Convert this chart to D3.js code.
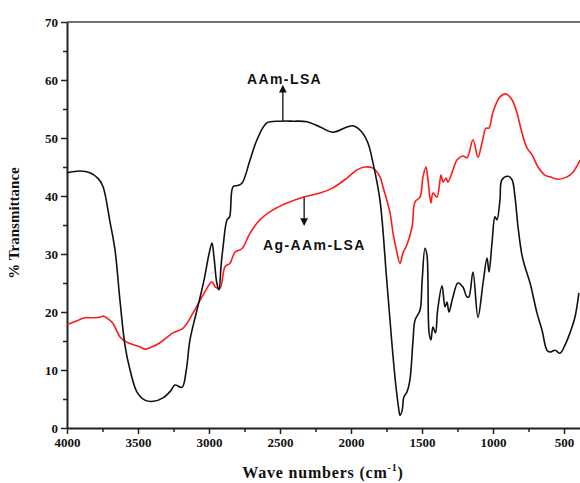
<!DOCTYPE html>
<html>
 <head>
 <meta charset="UTF-8">
 <style type="text/css">
  body { margin: 0; background: #fff; }
  .tick text { font-family: "Liberation Serif", "Times New Roman", serif; font-weight: bold; font-size: 13px; fill: #111; }
 </style>
 <script src="https://d3js.org/d3.v7.min.js"></script>
 </head>
 <body>
 <script type="text/javascript">

    // AAm-LSA spectrum, [wavenumber, % transmittance]
    var aamLsa = [
        [4000,44.0],[3908,44.3],[3838,44.0],[3780,43.0],[3746,41.6],[3697,35.5],[3662,30.7],[3627,22.0],
        [3592,14.3],[3556,10.0],[3507,6.2],[3451,4.8],[3394,4.6],[3324,5.2],[3270,6.4],[3240,7.4],
        [3190,7.0],[3160,10.0],[3134,15.2],[3085,20.3],[3035,25.5],[3000,30.0],[2979,31.9],[2965,29.5],
        [2945,25.0],[2930,23.8],[2915,28.0],[2901,31.2],[2873,35.9],[2855,36.4],[2831,41.6],[2800,41.8],
        [2768,42.2],[2711,46.2],[2662,49.7],[2592,52.6],[2500,52.9],[2408,52.9],[2310,52.8],[2218,51.9],
        [2127,51.0],[2028,51.9],[1986,52.1],[1923,51.0],[1880,49.1],[1845,45.7],[1796,39.3],[1750,26.0],
        [1710,14.0],[1685,7.5],[1665,3.5],[1655,2.2],[1640,3.0],[1628,5.3],[1606,6.2],[1585,8.3],
        [1563,15.2],[1549,18.6],[1514,20.3],[1500,25.0],[1479,31.0],[1465,29.8],[1450,16.4],[1437,15.2],
        [1423,17.4],[1405,16.4],[1390,20.3],[1359,24.5],[1338,20.9],[1324,21.7],[1310,20.0],[1282,22.6],
        [1247,25.0],[1212,24.3],[1184,22.6],[1170,22.6],[1141,26.9],[1106,19.1],[1070,25.0],[1042,29.3],
        [1028,26.9],[1007,31.9],[986,36.4],[972,35.9],[951,39.3],[937,42.8],[894,43.4],[866,42.8],
        [845,39.8],[824,34.7],[796,29.8],[775,27.8],[739,25.0],[690,19.8],[655,16.9],[620,13.4],
        [599,13.1],[563,13.4],[528,12.9],[493,14.3],[458,16.4],[423,19.1],[395,23.3]
    ];

    // Ag-AAm-LSA spectrum, [wavenumber, % transmittance]
    var agAamLsa = [
        [4000,17.8],[3940,18.4],[3873,19.0],[3810,19.0],[3768,19.1],[3746,19.3],[3710,18.8],[3676,18.0],
        [3650,16.8],[3627,15.7],[3580,14.8],[3486,14.0],[3451,13.6],[3400,14.0],[3345,14.7],[3254,16.4],
        [3183,17.2],[3113,19.8],[3042,22.9],[2979,25.2],[2955,24.3],[2923,24.1],[2887,27.8],[2852,28.4],
        [2817,30.3],[2768,30.9],[2711,33.6],[2641,35.9],[2549,37.6],[2451,38.8],[2338,39.8],[2218,40.5],
        [2127,41.4],[2028,43.1],[1958,44.5],[1901,45.0],[1845,44.8],[1796,43.3],[1775,41.6],[1725,37.1],
        [1704,33.6],[1680,30.7],[1655,28.4],[1634,30.2],[1606,31.6],[1570,34.7],[1549,39.0],[1514,39.8],
        [1493,43.3],[1472,45.0],[1458,42.8],[1437,38.8],[1423,40.5],[1395,39.8],[1366,43.6],[1352,42.4],
        [1331,43.1],[1317,42.4],[1282,44.5],[1254,46.2],[1212,46.9],[1183,46.6],[1141,49.7],[1106,46.7],
        [1078,49.1],[1049,51.7],[1028,51.7],[1000,54.5],[951,57.1],[908,57.6],[866,56.6],[831,54.3],
        [796,50.9],[761,48.3],[725,47.1],[683,45.0],[634,43.6],[599,43.3],[542,42.9],[479,43.3],
        [437,44.1],[387,46.2]
    ];

    var xTicks = [4000, 3500, 3000, 2500, 2000, 1500, 1000, 500];
    var yTicks = [0, 10, 20, 30, 40, 50, 60, 70];

    var margin = {top: 22, right: 0, bottom: 55, left: 67},
        width = 580 - margin.left - margin.right,
        height = 483 - margin.top - margin.bottom;

    var x = d3.scaleLinear()
        .domain([4000, 4000 - width / 0.142])
        .range([0, width]);

    var y = d3.scaleLinear()
        .domain([0, 70])
        .range([height, 0]);

    var svg = d3.select("body")
        .append("svg")
        .attr("width", 580)
        .attr("height", 483)
        .append("g")
        .attr("transform", "translate(" + margin.left + "," + margin.top + ")");

    // minor ticks
    svg.append("g")
        .attr("transform", "translate(0," + height + ")")
        .call(d3.axisBottom(x).tickValues(d3.range(3750, 300, -500)).tickSize(4).tickFormat(""))
        .call(g => g.select(".domain").remove())
        .selectAll("line").attr("stroke", "#222").attr("stroke-width", 1.5);
    svg.append("g")
        .call(d3.axisLeft(y).tickValues(d3.range(5, 70, 10)).tickSize(4).tickFormat(""))
        .call(g => g.select(".domain").remove())
        .selectAll("line").attr("stroke", "#222").attr("stroke-width", 1.5);

    // top frame line
    svg.append("line")
        .attr("x1", 0).attr("x2", width).attr("y1", 0).attr("y2", 0)
        .attr("stroke", "#444").attr("stroke-width", 1.5);

    var xAxis = svg.append("g")
        .attr("transform", "translate(0," + height + ")")
        .call(d3.axisBottom(x).tickValues(xTicks).tickFormat(d3.format("d"))
            .tickSize(6).tickPadding(4).tickSizeOuter(0));
    var yAxis = svg.append("g")
        .call(d3.axisLeft(y).tickValues(yTicks).tickFormat(d3.format("d"))
            .tickSize(6).tickPadding(3).tickSizeOuter(0));
    [xAxis, yAxis].forEach(function(a) {
        a.select(".domain").attr("stroke", "#222").attr("stroke-width", 2);
        a.selectAll(".tick line").attr("stroke", "#222").attr("stroke-width", 1.5);
    });

    var valueline = d3.line()
        .x(function(d) { return x(d[0]); })
        .y(function(d) { return y(d[1]); })
        .curve(d3.curveCatmullRom);

    svg.append("path")
        .attr("d", valueline(agAamLsa))
        .attr("fill", "none").attr("stroke", "#ff1a1a").attr("stroke-width", 1.6);

    svg.append("path")
        .attr("d", valueline(aamLsa))
        .attr("fill", "none").attr("stroke", "#111").attr("stroke-width", 1.6);

    // annotations
    svg.append("defs").append("marker")
        .attr("id", "head").attr("viewBox", "0 0 10 10")
        .attr("refX", 5).attr("refY", 5).attr("markerWidth", 6).attr("markerHeight", 6)
        .attr("orient", "auto-start-reverse")
        .append("path").attr("d", "M0,0 L10,5 L0,10 z").attr("fill", "#111");

    svg.append("line")
        .attr("x1", x(2480)).attr("x2", x(2480)).attr("y1", y(52.9)).attr("y2", y(58.5))
        .attr("stroke", "#111").attr("stroke-width", 1.3).attr("marker-end", "url(#head)");
    svg.append("line")
        .attr("x1", x(2330)).attr("x2", x(2330)).attr("y1", y(39.8)).attr("y2", y(35.5))
        .attr("stroke", "#111").attr("stroke-width", 1.3).attr("marker-end", "url(#head)");

    svg.append("text")
        .attr("x", 180).attr("y", 62)
        .attr("font-family", "Liberation Sans, Arial, sans-serif").attr("font-weight", "bold")
        .attr("font-size", "14px").attr("letter-spacing", "1.4px").attr("fill", "#111")
        .text("AAm-LSA");
    svg.append("text")
        .attr("x", 196).attr("y", 228)
        .attr("font-family", "Liberation Sans, Arial, sans-serif").attr("font-weight", "bold")
        .attr("font-size", "14px").attr("letter-spacing", "1.4px").attr("fill", "#111")
        .text("Ag-AAm-LSA");

    // axis titles
    var xt = svg.append("text")
        .attr("x", 256).attr("y", height + 50)
        .attr("text-anchor", "middle")
        .attr("font-family", "Liberation Serif, Times New Roman, serif").attr("font-weight", "bold")
        .attr("font-size", "16px").attr("letter-spacing", "0.8px").attr("fill", "#111");
    xt.append("tspan").text("Wave numbers (cm");
    xt.append("tspan").attr("font-size", "10px").attr("dy", -7).text("-1");
    xt.append("tspan").attr("dy", 7).text(")");

    svg.append("text")
        .attr("transform", "translate(-48," + (height / 2 - 2) + ") rotate(-90)")
        .attr("text-anchor", "middle")
        .attr("font-family", "Liberation Serif, Times New Roman, serif").attr("font-weight", "bold")
        .attr("font-size", "15px").attr("fill", "#111")
        .text("% Transmittance");

 </script>
 </body>
</html>
